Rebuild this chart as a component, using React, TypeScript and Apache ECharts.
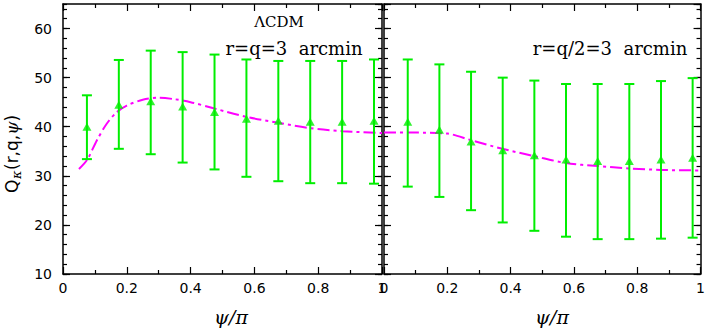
import React, { useEffect, useRef } from "react";
import * as echarts from "echarts";

// ---- data ----
const psiPoints = [0.075, 0.175, 0.275, 0.375, 0.475, 0.575, 0.675, 0.775, 0.875, 0.975];

const leftMean = [40, 44.5, 45.2, 44.1, 43, 41.6, 41.2, 41, 41, 41.2];
const leftLow = [33.4, 35.5, 34.4, 32.7, 31.3, 29.8, 28.9, 28.5, 28.5, 28.4];
const leftHigh = [46.4, 53.6, 55.5, 55.2, 54.7, 53.7, 53.4, 53.4, 53.4, 53.7];

const rightMean = [41, 39.4, 37, 35.2, 34.2, 33.3, 33, 33, 33.3, 33.7];
const rightLow = [27.8, 25.7, 23, 20.5, 18.8, 17.6, 17.1, 17.1, 17.2, 17.4];
const rightHigh = [53.7, 52.7, 51.2, 50, 49.4, 48.7, 48.7, 48.7, 49.3, 49.9];

const leftCurveX = [0.05, 0.076, 0.106, 0.137, 0.169, 0.2, 0.25, 0.3, 0.35, 0.4, 0.475, 0.575, 0.675, 0.775, 0.875, 1.0];
const leftCurveY = [31.4, 33.3, 37.2, 40.6, 43.0, 44.3, 45.5, 45.9, 45.6, 45.0, 43.7, 42.0, 40.8, 39.7, 39.1, 38.7];

const rightCurveX = [0, 0.1, 0.2, 0.273, 0.374, 0.476, 0.575, 0.675, 0.775, 0.875, 1.0];
const rightCurveY = [38.8, 38.8, 38.6, 37.3, 35.5, 34.0, 32.6, 32.0, 31.5, 31.2, 31.1];

const xTicks = [0, 0.2, 0.4, 0.6, 0.8, 1];
const yTicks = [10, 20, 30, 40, 50, 60];

const GREEN = "#00ee00";
const MAGENTA = "#ff00ff";
const SANS = '"DejaVu Sans"';
const SERIF = '"DejaVu Serif"';

function fmtX(v: number) {
  if (v === 0) return "0";
  if (v === 1) return "1";
  return v.toFixed(1);
}

function xAxes(grid: number) {
  const common = {
    gridIndex: grid,
    type: "value",
    min: 0,
    max: 1,
    interval: 0.2,
    axisLine: { show: true, lineStyle: { color: "#000", width: 1.5 } },
    axisTick: { show: true, inside: true, length: 7, lineStyle: { color: "#000", width: 1.2 } },
    minorTick: { show: true, splitNumber: 2, length: 4, lineStyle: { color: "#000", width: 1.2 } },
    splitLine: { show: false },
  };
  return [
    {
      ...common,
      position: "bottom",
      axisLabel: {
        show: true,
        margin: 7,
        color: "#000",
        fontFamily: SANS,
        fontSize: 14,
        formatter: (v: number) => (xTicks.some((t) => Math.abs(t - v) < 1e-9) ? fmtX(v) : ""),
      },
    },
    { ...common, position: "top", axisLabel: { show: false } },
  ];
}

function yAxes(grid: number, labels: boolean) {
  const major = {
    gridIndex: grid,
    type: "value",
    min: 10,
    max: 65,
    interval: 10,
    axisLine: { show: true, lineStyle: { color: "#000", width: 1.5 } },
    axisTick: { show: true, inside: true, length: 7, lineStyle: { color: "#000", width: 1.2 } },
    splitLine: { show: false },
  };
  const minor = {
    gridIndex: grid,
    type: "value",
    min: 10,
    max: 65,
    interval: 2,
    axisLine: { show: false },
    axisTick: { show: true, inside: true, length: 4, lineStyle: { color: "#000", width: 1.2 } },
    axisLabel: { show: false },
    splitLine: { show: false },
  };
  return [
    {
      ...major,
      position: "left",
      axisLabel: {
        show: labels,
        margin: 11,
        color: "#000",
        fontFamily: SANS,
        fontSize: 14,
        showMaxLabel: false,
        formatter: (v: number) => (yTicks.includes(v) ? String(v) : ""),
      },
    },
    { ...minor, position: "left" },
    { ...major, position: "right", axisLabel: { show: false } },
    { ...minor, position: "right" },
  ];
}

function errorBarSeries(xIdx: number, yIdx: number, lows: number[], highs: number[]) {
  return {
    type: "custom",
    xAxisIndex: xIdx,
    yAxisIndex: yIdx,
    data: psiPoints.map((x, i) => [x, lows[i], highs[i]]),
    renderItem: (params: any, api: any) => {
      const x = api.value(0);
      const lo = api.coord([x, api.value(1)]);
      const hi = api.coord([x, api.value(2)]);
      const w = 5;
      const st = { stroke: GREEN, lineWidth: 2 };
      return {
        type: "group",
        children: [
          { type: "line", shape: { x1: lo[0], y1: lo[1], x2: hi[0], y2: hi[1] }, style: st },
          { type: "line", shape: { x1: lo[0] - w, y1: lo[1], x2: lo[0] + w, y2: lo[1] }, style: st },
          { type: "line", shape: { x1: hi[0] - w, y1: hi[1], x2: hi[0] + w, y2: hi[1] }, style: st },
        ],
      };
    },
    z: 3,
  };
}

function meanSeries(xIdx: number, yIdx: number, means: number[]) {
  return {
    type: "scatter",
    xAxisIndex: xIdx,
    yAxisIndex: yIdx,
    symbol: "triangle",
    symbolSize: [9, 8],
    itemStyle: { color: GREEN },
    data: psiPoints.map((x, i) => [x, means[i]]),
    z: 4,
  };
}

function curveSeries(xIdx: number, yIdx: number, xs: number[], ys: number[]) {
  return {
    type: "line",
    xAxisIndex: xIdx,
    yAxisIndex: yIdx,
    smooth: 0.3,
    showSymbol: false,
    symbol: "none",
    lineStyle: { color: MAGENTA, width: 2, type: [12, 4, 3, 4] },
    data: xs.map((x, i) => [x, ys[i]]),
    z: 2,
  };
}

export default function App() {
  const ref = useRef<HTMLDivElement>(null);
  useEffect(() => {
    if (!ref.current) return;
    const chart = echarts.init(ref.current, undefined, { renderer: "svg" });
    const option: any = {
      animation: false,
      backgroundColor: "#fff",
      grid: [
        { left: 63, top: 4, width: 319, height: 270 },
        { left: 384, top: 4, width: 319, height: 270 },
      ],
      xAxis: [...xAxes(0), ...xAxes(1)],
      yAxis: [...yAxes(0, true), ...yAxes(1, false)],
      series: [
        curveSeries(0, 0, leftCurveX, leftCurveY),
        errorBarSeries(0, 0, leftLow, leftHigh),
        meanSeries(0, 0, leftMean),
        curveSeries(2, 4, rightCurveX, rightCurveY),
        errorBarSeries(2, 4, rightLow, rightHigh),
        meanSeries(2, 4, rightMean),
      ],
      graphic: [
        {
          type: "group",
          x: 12,
          y: 193,
          rotation: Math.PI / 2,
          children: [
            {
              type: "text",
              x: 0,
              y: 0,
              style: {
                text: "Q",
                font: `17px ${SANS}`,
                fill: "#000",
                textAlign: "left",
                textVerticalAlign: "middle",
              },
            },
            {
              type: "text",
              x: 14,
              y: 4,
              style: {
                text: "κ",
                font: `italic 13px ${SERIF}`,
                fill: "#000",
                textAlign: "left",
                textVerticalAlign: "middle",
              },
            },
            {
              type: "text",
              x: 23,
              y: 0,
              style: {
                text: "{s|(r,q,}{p|ψ}{s|)}",
                fill: "#000",
                textAlign: "left",
                textVerticalAlign: "middle",
                rich: {
                  s: { fontFamily: SANS, fontSize: 17, color: "#000" },
                  p: { fontFamily: SERIF, fontStyle: "italic", fontSize: 17, color: "#000" },
                },
              },
            },
          ],
        },
        {
          type: "text",
          x: 231,
          y: 317,
          style: {
            text: "ψ/π",
            font: `italic 19px ${SERIF}`,
            fill: "#000",
            textAlign: "center",
            textVerticalAlign: "middle",
          },
        },
        {
          type: "text",
          x: 552,
          y: 317,
          style: {
            text: "ψ/π",
            font: `italic 19px ${SERIF}`,
            fill: "#000",
            textAlign: "center",
            textVerticalAlign: "middle",
          },
        },
        {
          type: "text",
          x: 279,
          y: 22,
          style: {
            text: "ΛCDM",
            font: `15px ${SERIF}`,
            fill: "#000",
            textAlign: "center",
            textVerticalAlign: "middle",
          },
        },
        {
          type: "text",
          x: 294,
          y: 48,
          style: {
            text: "r=q=3  arcmin",
            font: `18px ${SERIF}`,
            fill: "#000",
            textAlign: "center",
            textVerticalAlign: "middle",
          },
        },
        {
          type: "text",
          x: 610,
          y: 48,
          style: {
            text: "r=q/2=3  arcmin",
            font: `18px ${SERIF}`,
            fill: "#000",
            textAlign: "center",
            textVerticalAlign: "middle",
          },
        },
      ],
    };
    chart.setOption(option);
    return () => chart.dispose();
  }, []);
  return (
    <div
      ref={ref}
      style={{ position: "absolute", left: 0, top: 0, width: 708, height: 330 }}
    />
  );
}
